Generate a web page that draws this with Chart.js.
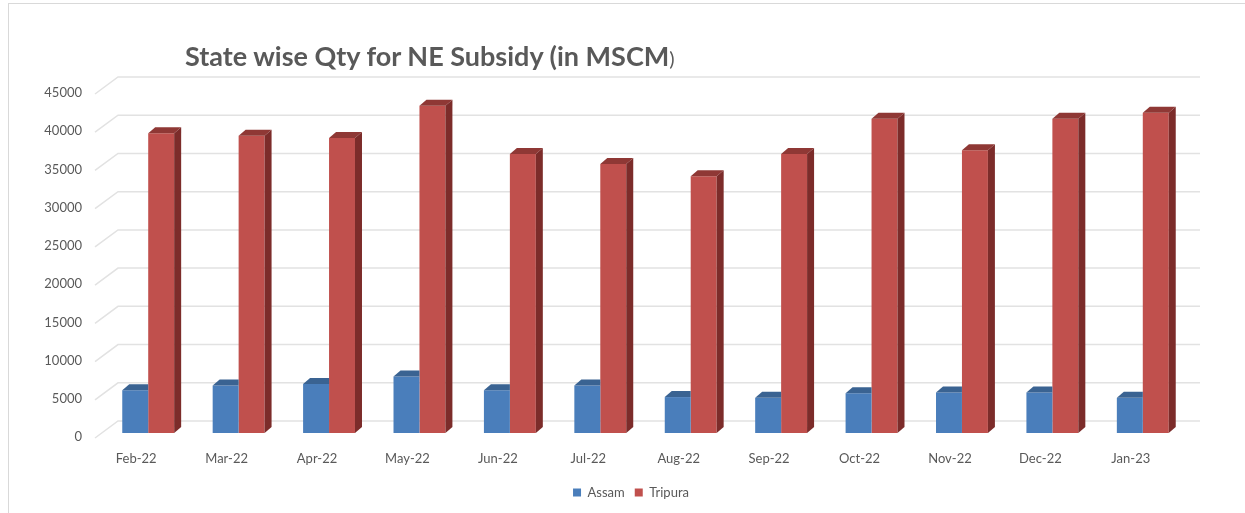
<!DOCTYPE html>
<html>
<head>
<meta charset="utf-8">
<script src="https://cdn.jsdelivr.net/npm/chart.js@4.4.1/dist/chart.umd.min.js"></script>
<style>
    body { margin: 0; background: #fff; }
    #wrap { position: relative; width: 1245px; height: 513px; }
    #frame { position: absolute; left: 8px; top: 3px; right: 0; bottom: 0; border-top: 1px solid #d9d9d9; border-left: 1px solid #d9d9d9; }
    #title { position: absolute; left: 185px; top: 39px; font-family: Lato, sans-serif; font-weight: bold; font-size: 27px; color: #595959; white-space: nowrap; }
    #title span { font-weight: normal; font-size: 20px; }
    canvas { position: absolute; left: 0; top: 0; }
</style>
</head>
<body>
<div id="wrap">
    <div id="frame"></div>
    <canvas id="subsidyChart" width="1245" height="513"></canvas>
    <div id="title">State wise Qty for NE Subsidy (in MSCM<span>)</span></div>
</div>
<script>
const months = ['Feb-22', 'Mar-22', 'Apr-22', 'May-22', 'Jun-22', 'Jul-22', 'Aug-22', 'Sep-22', 'Oct-22', 'Nov-22', 'Dec-22', 'Jan-23'];
const assam = [5600, 6200, 6400, 7400, 5600, 6200, 4700, 4600, 5200, 5300, 5300, 4600];
const tripura = [39200, 38900, 38600, 42800, 36500, 35200, 33600, 36500, 41100, 37000, 41100, 41900];
const yTicks = [0, 5000, 10000, 15000, 20000, 25000, 30000, 35000, 40000, 45000];

// top / side faces for the fake 3d columns
const faces = [
    { top: '#3a6392', side: null },   // assam side is hidden behind tripura
    { top: '#8f3835', side: '#7c2c2a' }
];
const DX = 7, DY = 6;

const depthPlugin = {
    id: 'depth',
    afterLayout(chart) {
        // legend sits a bit right of the middle in the original
        chart.legend.left += 37;
        chart.legend.right += 37;
    },
    beforeDatasetsDraw(chart) {
        const ctx = chart.ctx;
        const y = chart.scales.y;
        ctx.save();
        ctx.strokeStyle = '#e2e2e2';
        ctx.lineWidth = 1.5;
        yTicks.forEach(v => {
            const py = y.getPixelForValue(v);
            ctx.beginPath();
            ctx.moveTo(95, py + 5);
            ctx.lineTo(118, py - 12);
            ctx.lineTo(1200, py - 12);
            ctx.stroke();
        });
        ctx.restore();
    },
    afterDatasetDraw(chart, args) {
        const ctx = chart.ctx;
        const f = faces[args.index];
        ctx.save();
        args.meta.data.forEach(bar => {
            const p = bar.getProps(['x', 'y', 'base', 'width'], true);
            const l = p.x - p.width / 2;
            const r = p.x + p.width / 2;
            const rt = f.side ? r + DX : r;
            ctx.fillStyle = f.top;
            ctx.beginPath();
            ctx.moveTo(l, p.y);
            ctx.lineTo(l + DX, p.y - DY);
            ctx.lineTo(rt, p.y - DY);
            ctx.lineTo(r, p.y);
            ctx.closePath();
            ctx.fill();
            if (f.side) {
                ctx.fillStyle = f.side;
                ctx.beginPath();
                ctx.moveTo(r, p.y);
                ctx.lineTo(r + DX, p.y - DY);
                ctx.lineTo(r + DX, p.base - DY);
                ctx.lineTo(r, p.base);
                ctx.closePath();
                ctx.fill();
            }
        });
        ctx.restore();
    }
};

const ctx = document.getElementById('subsidyChart').getContext('2d');
new Chart(ctx, {
    type: 'bar',
    data: {
        labels: months,
        datasets: [{
            label: 'Assam',
            data: assam,
            backgroundColor: '#4a7ebb',
            borderWidth: 0
        }, {
            label: 'Tripura',
            data: tripura,
            backgroundColor: '#c0504d',
            borderWidth: 0
        }]
    },
    options: {
        responsive: false,
        animation: false,
        categoryPercentage: 0.574,
        barPercentage: 1.0,
        layout: {
            padding: { left: 0, right: 57, top: 89, bottom: 4 }
        },
        scales: {
            x: {
                grid: { display: false, drawTicks: false },
                border: { display: false },
                ticks: {
                    color: '#595959',
                    font: { family: 'Lato', size: 13 },
                    padding: 18,
                    labelOffset: -12,
                    maxRotation: 0
                },
                afterFit(scale) { scale.height = 43; }
            },
            y: {
                min: 0,
                max: 45000,
                grid: { display: false, drawTicks: false },
                border: { display: false },
                ticks: {
                    stepSize: 5000,
                    color: '#595959',
                    font: { family: 'Lato', size: 13 },
                    padding: 21,
                    labelOffset: 4,
                    callback: v => String(v)
                },
                afterFit(scale) { scale.width = 103; }
            }
        },
        plugins: {
            legend: {
                position: 'bottom',
                labels: {
                    boxWidth: 8,
                    boxHeight: 8,
                    padding: 10,
                    color: '#595959',
                    font: { family: 'Lato', size: 13 }
                }
            },
            tooltip: { enabled: false }
        }
    },
    plugins: [depthPlugin]
});
</script>
</body>
</html>
